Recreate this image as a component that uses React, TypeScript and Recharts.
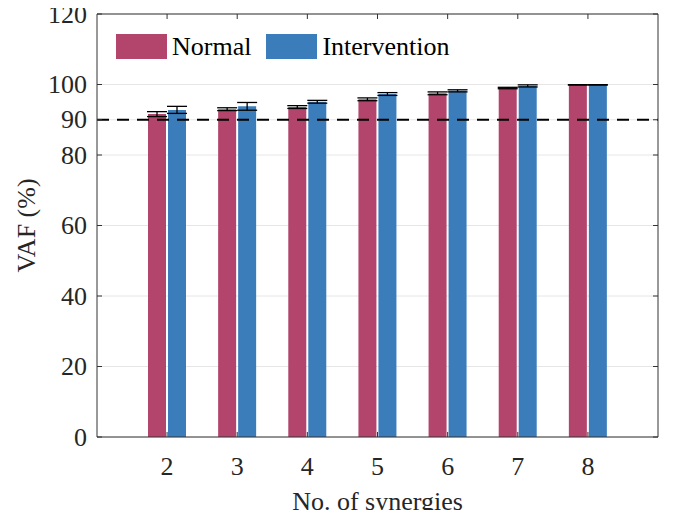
import { BarChart, Bar, XAxis, YAxis, CartesianGrid, ReferenceLine, ErrorBar } from "recharts";

const synergies = ["2", "3", "4", "5", "6", "7", "8"];
const normal = [91.6, 93.0, 93.6, 95.8, 97.5, 99.0, 99.9];
const normalErr = [0.7, 0.4, 0.4, 0.4, 0.4, 0.2, 0.05];
const intervention = [92.8, 93.8, 95.1, 97.3, 98.2, 99.6, 99.9];
const interventionErr = [1.0, 1.1, 0.4, 0.4, 0.3, 0.3, 0.05];
const yTicks = [0, 20, 40, 60, 80, 90, 100, 120];
const threshold = 90;

const seriesNames = ["Normal", "Intervention"];
const seriesColors = ["#B3446C", "#3A7DBA"];

const data = synergies.map((s, i) => ({
  name: s,
  normal: normal[i],
  normalErr: normalErr[i],
  intervention: intervention[i],
  interventionErr: interventionErr[i],
}));

// chart spans the full page height (body margin cancelled vertically)
const W = 662;
const H = 518;
const PLOT_LEFT = 89;
const PLOT_RIGHT = 650;
const PLOT_TOP = 14;
const PLOT_BOTTOM = 437;
const FONT = '"Liberation Serif", "Times New Roman", serif';
const AXIS = "#333333";
const TEXT = "#262626";

function YTick({ y, payload }: any) {
  return (
    <g>
      <line x1={PLOT_LEFT} x2={PLOT_LEFT + 5} y1={y} y2={y} stroke={AXIS} />
      <line x1={PLOT_RIGHT} x2={PLOT_RIGHT - 5} y1={y} y2={y} stroke={AXIS} />
      <text
        x={PLOT_LEFT - 10}
        y={y}
        textAnchor="end"
        dominantBaseline="central"
        fontSize={26}
        fontFamily={FONT}
        fill={TEXT}
      >
        {payload.value}
      </text>
    </g>
  );
}

function XTick({ x, payload }: any) {
  return (
    <g>
      <line x1={x} x2={x} y1={PLOT_TOP} y2={PLOT_TOP + 5} stroke={AXIS} />
      <line x1={x} x2={x} y1={PLOT_BOTTOM} y2={PLOT_BOTTOM - 5} stroke={AXIS} />
      <text
        x={x}
        y={PLOT_BOTTOM + 38}
        textAnchor="middle"
        fontSize={26}
        fontFamily={FONT}
        fill={TEXT}
      >
        {payload.value}
      </text>
    </g>
  );
}

export default function App() {
  return (
    <div style={{ position: "relative", width: W, height: H, marginTop: -8, marginBottom: -8 }}>
      <BarChart
        width={W}
        height={H}
        data={data}
        margin={{ top: PLOT_TOP, right: 0, bottom: 0, left: 0 }}
        barSize={18}
        barGap={2}
      >
        <CartesianGrid vertical={false} stroke="#e6e6e6" />
        <XAxis
          dataKey="name"
          height={H - PLOT_BOTTOM}
          padding={{ left: 35, right: 35 }}
          axisLine={{ stroke: AXIS }}
          tickLine={false}
          tick={<XTick />}
          interval={0}
          label={{
            content: ({ viewBox }: any) => (
              <text
                x={viewBox.x + viewBox.width / 2}
                y={510}
                textAnchor="middle"
                fontSize={26}
                fontFamily={FONT}
                fill={TEXT}
              >
                No. of synergies
              </text>
            ),
          }}
        />
        <YAxis
          width={PLOT_LEFT}
          domain={[0, 120]}
          ticks={yTicks}
          interval={0}
          axisLine={{ stroke: AXIS }}
          tickLine={false}
          tick={<YTick />}
          label={{
            content: ({ viewBox }: any) => {
              const cy = viewBox.y + viewBox.height / 2;
              return (
                <text
                  x={18}
                  y={cy}
                  transform={`rotate(-90 18 ${cy})`}
                  textAnchor="middle"
                  dominantBaseline="central"
                  fontSize={26}
                  fontFamily={FONT}
                  fill={TEXT}
                >
                  VAF (%)
                </text>
              );
            },
          }}
        />
        <YAxis
          yAxisId="r"
          orientation="right"
          width={W - PLOT_RIGHT}
          domain={[0, 120]}
          tick={false}
          tickLine={false}
          axisLine={{ stroke: AXIS }}
        />
        <ReferenceLine y={120} stroke={AXIS} />
        <Bar dataKey="normal" fill={seriesColors[0]} isAnimationActive={false}>
          <ErrorBar dataKey="normalErr" width={10} stroke="#000" strokeWidth={1.3} />
        </Bar>
        <Bar dataKey="intervention" fill={seriesColors[1]} isAnimationActive={false}>
          <ErrorBar dataKey="interventionErr" width={10} stroke="#000" strokeWidth={1.3} />
        </Bar>
        <ReferenceLine y={threshold} stroke="#000" strokeWidth={2} strokeDasharray="12 8" />
      </BarChart>
      <div
        style={{
          position: "absolute",
          left: 108,
          top: 34,
          display: "flex",
          alignItems: "center",
          fontFamily: FONT,
          fontSize: 26,
          color: "#000",
          lineHeight: "25px",
        }}
      >
        {seriesNames.map((n, i) => (
          <div key={n} style={{ display: "flex", alignItems: "center", marginRight: 15 }}>
            <div style={{ width: 51, height: 25, background: seriesColors[i], marginRight: 5 }} />
            <span>{n}</span>
          </div>
        ))}
      </div>
    </div>
  );
}
